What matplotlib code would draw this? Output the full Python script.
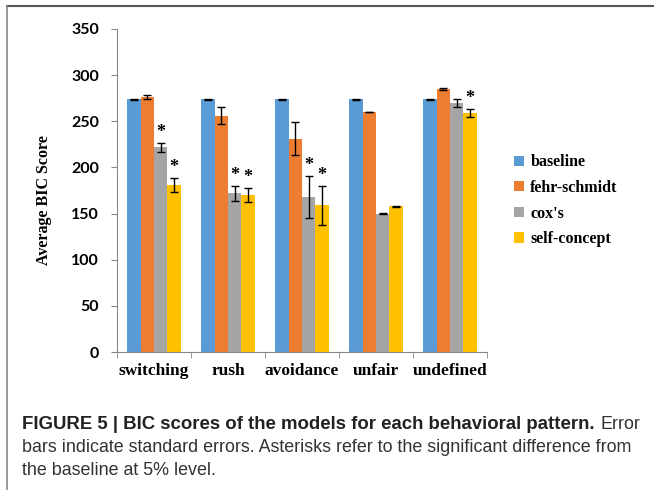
import matplotlib
matplotlib.use("Agg")
import matplotlib.pyplot as plt
import numpy as np
from matplotlib.lines import Line2D

categories = ["switching", "rush", "avoidance", "unfair", "undefined"]
series_names = ["baseline", "fehr-schmidt", "cox's", "self-concept"]
baseline = [274, 274, 274, 274, 274]
baseline_err = [0.4, 0.4, 0.4, 0.4, 0.4]
fehr = [276, 256, 231, 260, 285]
fehr_err = [2, 9, 18, 0.4, 1.6]
cox = [222, 172, 168, 150, 270]
cox_err = [5, 8, 23, 0.4, 4]
selfc = [181, 170, 159, 158, 259]
selfc_err = [8, 8, 21, 0.4, 4]
# significance flags (asterisks)
sig_cox = [True, True, True, False, False]
sig_self = [True, True, True, False, True]
yticks = [0, 50, 100, 150, 200, 250, 300, 350]

colors = ["#5B9BD5", "#ED7D31", "#A5A5A5", "#FFC000"]
W, H = 654, 490
fig = plt.figure(figsize=(W / 100, H / 100), dpi=100)
ax = fig.add_axes([117 / W, 1 - 352 / H, (487 - 117) / W, (352 - 29) / H])

vals = [baseline, fehr, cox, selfc]
errs = [baseline_err, fehr_err, cox_err, selfc_err]
sigs = [None, None, sig_cox, sig_self]
x = np.arange(len(categories))
bw = 0.18
for i, (v, e, c, name) in enumerate(zip(vals, errs, colors, series_names)):
    xs = x + (i - 1.5) * bw
    ax.bar(xs, v, bw, color=c, label=name, zorder=2)
    ax.errorbar(xs, v, yerr=e, fmt="none", ecolor="black", elinewidth=1,
                capsize=3, capthick=1, zorder=3)
    if sigs[i] is not None:
        for xi, vi, ei, s in zip(xs, v, e, sigs[i]):
            if s:
                ax.text(xi, vi + ei + 2, "*", ha="center", va="bottom",
                        fontsize=13, fontweight="bold", family="Liberation Serif")

ax.set_xlim(-0.5, len(categories) - 0.5)
ax.set_ylim(0, 350)
ax.set_yticks(yticks)
ax.set_yticklabels([str(t) for t in yticks], fontsize=11.5, fontweight="bold", family="Lato")
ax.set_xticks(x)
ax.set_xticklabels(categories, fontsize=12.5, fontweight="bold", family="Liberation Serif")
ax.set_xticks(np.arange(len(categories) + 1) - 0.5, minor=True)
ax.tick_params(axis="x", which="major", length=0, pad=8)
ax.tick_params(axis="x", which="minor", length=4, color="#888888")
ax.tick_params(axis="y", length=4, color="#888888", pad=9)
for s in ["top", "right"]:
    ax.spines[s].set_visible(False)
for s in ["left", "bottom"]:
    ax.spines[s].set_color("#888888")
ax.set_ylabel("Average BIC Score", fontsize=11.5, fontweight="bold", family="Liberation Serif")
ax.yaxis.set_label_coords(-0.175, 0.47)

leg = fig.legend(loc="upper left", bbox_to_anchor=(500 / W, 1 - 140 / H), frameon=False,
                 prop={"family": "Liberation Serif", "weight": "bold", "size": 11.5},
                 handlelength=0.6, handleheight=0.6, handletextpad=0.4, labelspacing=0.6)

# frame lines
fig.add_artist(Line2D([7 / W, 653 / W], [1 - 6 / H, 1 - 6 / H], color="#555555", lw=1.5, transform=fig.transFigure))
fig.add_artist(Line2D([7 / W, 7 / W], [1 - 6 / H, 0], color="#888888", lw=1.2, transform=fig.transFigure))

# caption
fig.canvas.draw()
r = fig.canvas.get_renderer()
bold_fs = 13.4
reg_fs = 12.85
t1 = fig.text(22 / W, 1 - 424 / H, "FIGURE 5 | BIC scores of the models for each behavioral pattern.",
              fontsize=bold_fs, fontweight="bold", family="Liberation Sans", va="center", color="#222222")
bb = t1.get_window_extent(renderer=r)
fig.text((bb.x1 + 6) / W, 1 - 424 / H, "Error", fontsize=reg_fs, family="Liberation Sans",
         va="center", color="#333333")
fig.text(22 / W, 1 - 447 / H, "bars indicate standard errors. Asterisks refer to the significant difference from",
         fontsize=reg_fs, family="Liberation Sans", va="center", color="#333333")
fig.text(22 / W, 1 - 470 / H, "the baseline at 5% level.", fontsize=reg_fs, family="Liberation Sans",
         va="center", color="#333333")

fig.savefig("out.png", dpi=100)
